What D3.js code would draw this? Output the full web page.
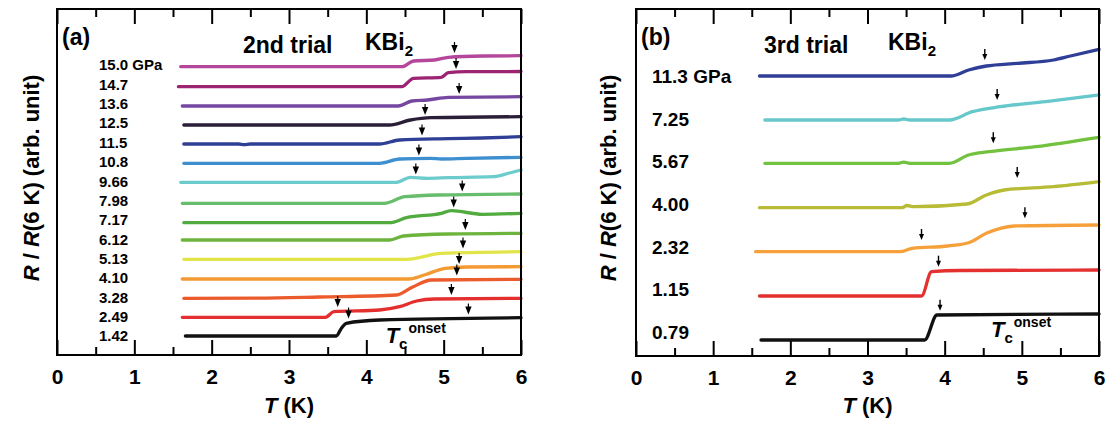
<!DOCTYPE html>
<html lang="en">
<head>
<meta charset="utf-8">
<title>KBi2 R/R(6 K)</title>
<script src="https://d3js.org/d3.v7.min.js"></script>
<style>
body { margin: 0; background: #fff; }
svg { display: block; }
text { font-family: "Liberation Sans", Arial, sans-serif; font-weight: bold; fill: #000; }
</style>
</head>
<body>
<script>

// ---- panel (a): 2nd trial ----
var pressuresA = ["15.0 GPa", "14.7", "13.6", "12.5", "11.5", "10.8", "9.66", "7.98",
                  "7.17", "6.12", "5.13", "4.10", "3.28", "2.49", "1.42"];
var colorsA = ["#b4479b", "#9c2472", "#7647a0", "#2b1e38", "#2f3f95", "#3e8fcf", "#6ccbcc", "#67bd6b",
               "#52ab3e", "#6cb43d", "#e2e54a", "#f39a33", "#ec5b2c", "#e42f2f", "#111111"];
// [T (K), R (arb. unit)]
var curvesA = [
  [[1.60,28.83],[4.46,28.83],[4.61,29.4],[4.88,29.5],[5.06,29.77],[5.51,29.9],[6.0,29.93]],
  [[1.57,26.83],[4.46,26.83],[4.61,27.67],[4.97,27.77],[5.06,28.23],[5.3,28.33],[6.0,28.35]],
  [[1.62,24.9],[4.41,24.9],[4.59,25.4],[4.79,25.5],[5.06,25.77],[6.0,25.83]],
  [[1.64,23.0],[4.30,23.0],[4.57,23.5],[4.84,23.73],[6.0,23.83]],
  [[1.64,21.1],[2.35,21.1],[2.42,21.04],[2.5,21.1],[4.17,21.1],[4.43,21.5],[5.06,21.63],[5.5,21.7],[6.0,21.83]],
  [[1.64,19.17],[4.17,19.17],[4.43,19.6],[4.83,19.67],[4.97,19.6],[5.3,19.67],[6.0,19.77]],
  [[1.60,17.27],[4.39,17.27],[4.57,17.77],[4.79,17.67],[5.06,17.73],[5.64,17.83],[5.85,18.2],[6.0,18.5]],
  [[1.62,15.17],[4.23,15.17],[4.5,15.83],[4.93,16.0],[6.0,16.1]],
  [[1.64,13.23],[4.30,13.23],[4.52,13.73],[4.97,14.17],[5.1,14.43],[5.5,14.07],[6.0,14.17]],
  [[1.62,11.5],[4.30,11.5],[4.48,11.9],[5.06,12.1],[6.0,12.17]],
  [[1.64,9.57],[4.52,9.57],[4.97,10.17],[6.0,10.33]],
  [[1.62,7.6],[4.55,7.6],[4.75,8.0],[5.02,8.67],[5.3,8.8],[6.0,8.83]],
  [[1.64,5.67],[2.6,5.68],[3.4,5.8],[4.39,6.0],[4.6,6.8],[4.84,7.5],[6.0,7.57]],
  [[1.62,3.77],[3.47,3.77],[3.58,4.33],[4.17,4.5],[4.43,4.83],[4.65,5.4],[4.88,5.6],[6.0,5.67]],
  [[1.66,1.9],[3.61,1.9],[3.68,2.7],[3.74,3.17],[4.17,3.5],[6.0,3.73]]
];
// Tc onset markers [T, R at arrow tip]
var onsetA = [
  [5.14,30.2],[5.16,28.6],[5.2,26.1],[4.76,24.0],[4.72,21.95],[4.68,19.95],[4.64,18.05],[5.24,16.35],
  [5.13,14.75],[5.28,12.5],[5.25,10.65],[5.2,9.1],[5.17,7.95],[3.63,4.8],[5.1,6.0],[3.77,3.65],[5.32,4.05]
];

// ---- panel (b): 3rd trial ----
var pressuresB = ["11.3 GPa", "7.25", "5.67", "4.00", "2.32", "1.15", "0.79"];
var colorsB = ["#2f3e96", "#67c8cb", "#72c13f", "#b7bb35", "#f6a03b", "#e4302f", "#111111"];
var curvesB = [
  [[1.60,28.0],[4.08,28.0],[4.31,28.6],[4.54,29.0],[4.95,29.27],[5.41,29.6],[5.63,30.0],[6.0,30.67]],
  [[1.67,23.6],[3.4,23.6],[3.47,23.7],[3.55,23.6],[4.06,23.6],[4.36,24.43],[4.72,24.93],[5.31,25.43],[6.0,26.1]],
  [[1.67,19.27],[3.4,19.27],[3.47,19.38],[3.55,19.27],[4.06,19.27],[4.31,20.1],[4.58,20.43],[5.18,20.93],[6.0,21.87]],
  [[1.60,14.83],[3.45,14.83],[3.51,15.05],[3.6,14.93],[4.29,15.2],[4.54,16.1],[4.77,16.6],[5.41,16.93],[6.0,17.43]],
  [[1.55,10.43],[3.42,10.43],[3.58,10.77],[4.04,11.0],[4.31,11.33],[4.54,12.27],[4.72,12.77],[4.9,13.0],[6.0,13.1]],
  [[1.60,6.0],[3.7,6.0],[3.83,8.43],[4.2,8.55],[6.0,8.6]],
  [[1.62,1.6],[3.74,1.6],[3.9,4.1],[6.0,4.2]]
];
var onsetB = [
  [4.52,29.6],[4.68,25.6],[4.63,21.27],[4.94,17.8],[3.7,11.6],[5.04,13.77],[3.92,8.93],[3.94,4.53]
];

var xTicks = [0, 1, 2, 3, 4, 5, 6];
var xMinor = [0.5, 1.5, 2.5, 3.5, 4.5, 5.5];

var svg = d3.select("body").append("svg")
    .attr("width", 1111)
    .attr("height", 423);

function drawPanel(p) {
  var x = d3.scaleLinear().domain([0, 6]).range([p.left, p.right]);
  var y = d3.scaleLinear().domain([0, (p.bottom - p.top) / 10]).range([p.bottom, p.top]);
  var g = svg.append("g");

  var line = d3.line()
      .x(function(d) { return x(d[0]); })
      .y(function(d) { return y(d[1]); })
      .curve(d3.curveMonotoneX);

  g.selectAll("path.curve")
    .data(p.curves)
    .enter().append("path")
      .attr("class", "curve")
      .attr("d", line)
      .attr("fill", "none")
      .attr("stroke", function(d, i) { return p.colors[i]; })
      .attr("stroke-width", 3.3)
      .attr("stroke-linejoin", "round")
      .attr("stroke-linecap", "round");

  // pressure labels
  var ly = d3.scaleLinear().domain([0, p.labels.length - 1]).range(p.labelRange);
  g.selectAll("text.plabel")
    .data(p.labels)
    .enter().append("text")
      .attr("class", "plabel")
      .attr("x", p.labelX)
      .attr("y", function(d, i) { return ly(i); })
      .attr("dy", "0.36em")
      .attr("font-size", p.labelSize)
      .text(function(d) { return d; });

  // onset arrows
  g.selectAll("g.arrow")
    .data(p.onset)
    .enter().append("g")
      .attr("class", "arrow")
      .attr("transform", function(d) { return "translate(" + x(d[0]) + "," + y(d[1]) + ")"; })
      .each(function() {
        var a = d3.select(this);
        if (p.filledArrow) {
          a.append("line").attr("x1", 0).attr("x2", 0).attr("y1", -11).attr("y2", -7)
            .attr("stroke", "#000").attr("stroke-width", 1.2);
          a.append("path").attr("d", "M0,0L-3.2,-8L3.2,-8Z").attr("fill", "#000");
        } else {
          a.append("line").attr("x1", 0).attr("x2", 0).attr("y1", -11).attr("y2", -4)
            .attr("stroke", "#000").attr("stroke-width", 1.4);
          a.append("path").attr("d", "M0,0L-2.5,-6L2.5,-6Z").attr("fill", "#000");
        }
      });

  // frame
  g.append("rect")
    .attr("x", p.left).attr("y", p.top)
    .attr("width", p.right - p.left).attr("height", p.bottom - p.top)
    .attr("fill", "none").attr("stroke", "#000").attr("stroke-width", 2);

  function styleAxis(sel) {
    sel.select(".domain").remove();
    sel.selectAll("line").attr("stroke", "#000").attr("stroke-width", 2);
    sel.selectAll("text").attr("font-size", 21).attr("font-weight", "bold")
      .attr("font-family", "'Liberation Sans', Arial, sans-serif").attr("fill", "#000");
  }

  g.append("g").attr("transform", "translate(0," + p.bottom + ")")
    .call(d3.axisBottom(x).tickValues(xTicks).tickSize(-15).tickPadding(14).tickFormat(d3.format("d")))
    .call(styleAxis);
  g.append("g").attr("transform", "translate(0," + p.bottom + ")")
    .call(d3.axisBottom(x).tickValues(xMinor).tickSize(-8).tickFormat(""))
    .call(styleAxis);
  g.append("g").attr("transform", "translate(0," + p.top + ")")
    .call(d3.axisTop(x).tickValues(xTicks).tickSize(-15).tickFormat(""))
    .call(styleAxis);
  g.append("g").attr("transform", "translate(0," + p.top + ")")
    .call(d3.axisTop(x).tickValues(xMinor).tickSize(-8).tickFormat(""))
    .call(styleAxis);

  // axis titles
  var xt = g.append("text")
    .attr("x", (p.left + p.right) / 2)
    .attr("y", 413)
    .attr("text-anchor", "middle")
    .attr("font-size", 22);
  xt.append("tspan").attr("font-style", "italic").text("T");
  xt.append("tspan").text(" (K)");

  var yt = g.append("text")
    .attr("transform", "translate(" + p.yTitleX + ",178) rotate(-90)")
    .attr("text-anchor", "middle")
    .attr("font-size", 22);
  yt.append("tspan").attr("font-style", "italic").text("R");
  yt.append("tspan").text(" / ");
  yt.append("tspan").attr("font-style", "italic").text("R");
  yt.append("tspan").text("(6 K) (arb. unit)");

  // panel tag and title
  g.append("text").attr("x", p.left + 5).attr("y", 45).attr("font-size", 23).text(p.tag);
  g.append("text").attr("x", p.trialX).attr("y", 53).attr("font-size", 23).text(p.trial);
  var kb = g.append("text").attr("x", p.kbiX).attr("y", 50).attr("font-size", 23);
  kb.append("tspan").text("KBi");
  kb.append("tspan").attr("font-size", 15).attr("dy", 6).text("2");

  // Tc onset
  var tc = g.append("text").attr("x", x(p.tc[0])).attr("y", y(p.tc[1])).attr("font-size", 22);
  tc.append("tspan").attr("font-style", "italic").text("T");
  tc.append("tspan").attr("font-size", 15).attr("dy", 6).text("c");
  tc.append("tspan").attr("font-size", 14).attr("dy", -16).attr("dx", 1).text("onset");
}

drawPanel({
  left: 57, right: 521, top: 9, bottom: 355,
  curves: curvesA, colors: colorsA, labels: pressuresA, onset: onsetA,
  labelX: 99, labelRange: [65, 336], labelSize: 15, filledArrow: true,
  yTitleX: 39, tag: "(a)", trial: "2nd trial", trialX: 243, kbiX: 365,
  tc: [4.25, 1.2]
});

drawPanel({
  left: 636, right: 1099, top: 9, bottom: 356,
  curves: curvesB, colors: colorsB, labels: pressuresB, onset: onsetB,
  labelX: 652, labelRange: [76, 332], labelSize: 19, filledArrow: false,
  yTitleX: 616, tag: "(b)", trial: "3rd trial", trialX: 764, kbiX: 888,
  tc: [4.6, 1.9]
});

</script>
</body>
</html>
